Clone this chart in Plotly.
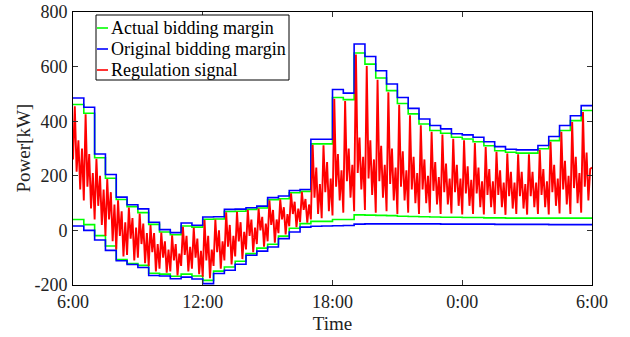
import plotly.graph_objects as go

# ---- data ----
# half-hour steps starting at 6:00 (hours after 6:00)
step_hours = [i * 0.5 for i in range(48)] + [24.0]

actual_upper = [461, 429, 266, 191, 113, 87, 65, 22, -6, -16, 16, 12,
                41, 42, 69, 70, 77, 82, 112, 116, 138, 143, 317, 317,
                487, 479, 650, 609, 558, 512, 465, 427, 390, 366, 356, 341,
                335, 325, 310, 292, 286, 283, 283, 299, 329, 366, 402, 439]
actual_lower = [40, 21, -19, -57, -107, -121, -128, -157, -160, -168, -160, -167,
                -183, -149, -134, -113, -85, -65, -51, -21, 8, 25, 33, 33,
                40, 40, 57, 56, 55, 54, 52, 51, 50, 49, 48, 48,
                47, 47, 46, 46, 45, 45, 45, 45, 45, 45, 45, 45]
original_upper = [485, 451, 280, 205, 122, 94, 79, 30, 3, -8, 27, 19,
                  49, 50, 77, 78, 83, 89, 120, 126, 146, 150, 334, 334,
                  516, 503, 683, 637, 585, 536, 487, 447, 408, 384, 372, 354,
                  350, 341, 325, 307, 297, 295, 295, 311, 344, 384, 420, 457]
original_lower = [16, 0, -35, -73, -111, -125, -136, -165, -167, -177, -171, -178,
                  -195, -158, -146, -124, -91, -76, -61, -30, -6, 12, 15, 16,
                  17, 18, 23, 24, 24, 24, 24, 24, 24, 24, 23, 23,
                  23, 23, 23, 22, 22, 22, 22, 22, 21, 21, 21, 21]

# regulation signal, 6 samples per half hour (5-min resolution)
regulation = [
    260, 455, 215, 330, 150, 300,
    110, 425, 160, 280, 80, 210,
    40, 262, 90, 200, 20, 150,
    -20, 188, 40, 140, -40, 95,
    -70, 110, -20, 70, -95, 30,
    -90, 84, -30, 45, -110, 10,
    -100, 62, -50, 25, -120, -10,
    -130, 20, -80, -10, -150, -50,
    -140, -8, -100, -40, -155, -70,
    -150, -18, -110, -50, -165, -85,
    -130, 13, -90, -20, -150, -60,
    -140, 10, -100, -30, -160, -75,
    -170, 38, -110, -20, -175, -70,
    -130, 40, -80, 0, -140, -40,
    -110, 66, -60, 20, -125, -20,
    -95, 68, -40, 30, -105, -5,
    -70, 75, -20, 40, -80, 10,
    -50, 80, 0, 50, -60, 25,
    -40, 110, 20, 75, -45, 40,
    -10, 114, 40, 85, -15, 60,
    15, 136, 60, 105, 12, 80,
    30, 141, 75, 115, 28, 95,
    40, 314, 120, 230, 60, 170,
    45, 312, 140, 250, 70, 190,
    55, 482, 160, 280, 110, 220,
    65, 474, 180, 300, 120, 240,
    70, 644, 210, 340, 150, 270,
    75, 602, 190, 330, 130, 260,
    65, 552, 180, 310, 120, 240,
    70, 506, 170, 300, 110, 230,
    60, 460, 160, 290, 110, 220,
    65, 422, 150, 270, 100, 210,
    60, 385, 150, 260, 100, 200,
    65, 361, 145, 250, 95, 195,
    60, 351, 140, 245, 95, 190,
    62, 336, 140, 240, 90, 190,
    58, 330, 135, 235, 90, 185,
    60, 320, 135, 230, 85, 180,
    58, 305, 130, 225, 85, 180,
    60, 288, 130, 220, 85, 175,
    57, 282, 125, 215, 80, 175,
    60, 279, 125, 215, 80, 170,
    58, 279, 125, 215, 85, 175,
    60, 295, 130, 225, 85, 180,
    58, 325, 140, 240, 90, 190,
    62, 361, 150, 255, 95, 200,
    60, 397, 155, 270, 100, 210,
    65, 434, 160, 285, 110, 225,
    230,
]
samples_per_step = 6
reg_hours = [i * 0.5 / samples_per_step for i in range(len(regulation))]

x_tick_hours = [0, 6, 12, 18, 24]
x_tick_labels = ["6:00", "12:00", "18:00", "0:00", "6:00"]
y_tick_values = [-200, 0, 200, 400, 600, 800]
y_tick_labels = ["-200", "0", "200", "400", "600", "800"]

legend_names = ["Actual bidding margin", "Original bidding margin", "Regulation signal"]

GREEN = "#00FF00"
BLUE = "#0000FF"
RED = "#FF0000"
FONT = "Liberation Serif"
legend_colors = [GREEN, BLUE, RED]


def close(vals):
    return vals + [vals[-1]]


fig = go.Figure()
fig.add_trace(go.Scatter(x=step_hours, y=close(actual_upper), mode="lines",
                         line=dict(color=GREEN, width=1.6, shape="hv"),
                         name=legend_names[0]))
fig.add_trace(go.Scatter(x=step_hours, y=close(actual_lower), mode="lines",
                         line=dict(color=GREEN, width=1.6, shape="hv"),
                         name=legend_names[0]))
fig.add_trace(go.Scatter(x=step_hours, y=close(original_upper), mode="lines",
                         line=dict(color=BLUE, width=1.6, shape="hv"),
                         name=legend_names[1]))
fig.add_trace(go.Scatter(x=step_hours, y=close(original_lower), mode="lines",
                         line=dict(color=BLUE, width=1.6, shape="hv"),
                         name=legend_names[1]))
fig.add_trace(go.Scatter(x=reg_hours, y=regulation, mode="lines",
                         line=dict(color=RED, width=1.9),
                         name=legend_names[2]))

# compact MATLAB-style legend box (paper coordinates of the plot area)
plot_left, plot_w, plot_bottom, plot_h = 73, 519, 285, 273


def px_x(px):
    return (px - plot_left) / plot_w


def px_y(py):
    return (plot_bottom - py) / plot_h


shapes = [dict(type="rect", xref="paper", yref="paper",
               x0=px_x(96), x1=px_x(289), y0=px_y(80), y1=px_y(15),
               line=dict(color="black", width=1), fillcolor="white", layer="above")]
annotations = []
row_centers = [28, 49, 70]
for name, color, row in zip(legend_names, legend_colors, row_centers):
    shapes.append(dict(type="line", xref="paper", yref="paper",
                       x0=px_x(97), x1=px_x(108), y0=px_y(row), y1=px_y(row),
                       line=dict(color=color, width=1.6), layer="above"))
    annotations.append(dict(text=name, xref="paper", yref="paper",
                            x=px_x(109), y=px_y(row), xanchor="left", yanchor="middle",
                            showarrow=False, font=dict(family=FONT, size=18, color="black")))

annotations.append(dict(text="Power[kW]", xref="paper", yref="paper",
                        x=px_x(23), y=0.5, xanchor="center", yanchor="middle",
                        textangle=-90, showarrow=False,
                        font=dict(family=FONT, size=19, color="#222222")))

axis_common = dict(showline=True, linecolor="black", linewidth=1, mirror="ticks",
                   ticks="inside", ticklen=5, tickcolor="#333333", showgrid=False,
                   zeroline=False, automargin=False,
                   tickfont=dict(family=FONT, size=18, color="#222222"))

fig.update_layout(
    width=630, height=337,
    margin=dict(l=73, r=38, t=12, b=52),
    paper_bgcolor="white", plot_bgcolor="white",
    font=dict(family=FONT, size=18, color="#222222"),
    showlegend=False,
    shapes=shapes,
    annotations=annotations,
    xaxis=dict(range=[0, 24], tickvals=x_tick_hours, ticktext=x_tick_labels,
               title=dict(text="Time", font=dict(family=FONT, size=19), standoff=6),
               **axis_common),
    yaxis=dict(range=[-200, 800], tickvals=y_tick_values, ticktext=y_tick_labels,
               ticklabelstandoff=1,
               **axis_common),
)

fig.write_html("out.html", config={"displayModeBar": False},
               post_script="document.body.style.margin='0';document.body.style.overflow='hidden';")
